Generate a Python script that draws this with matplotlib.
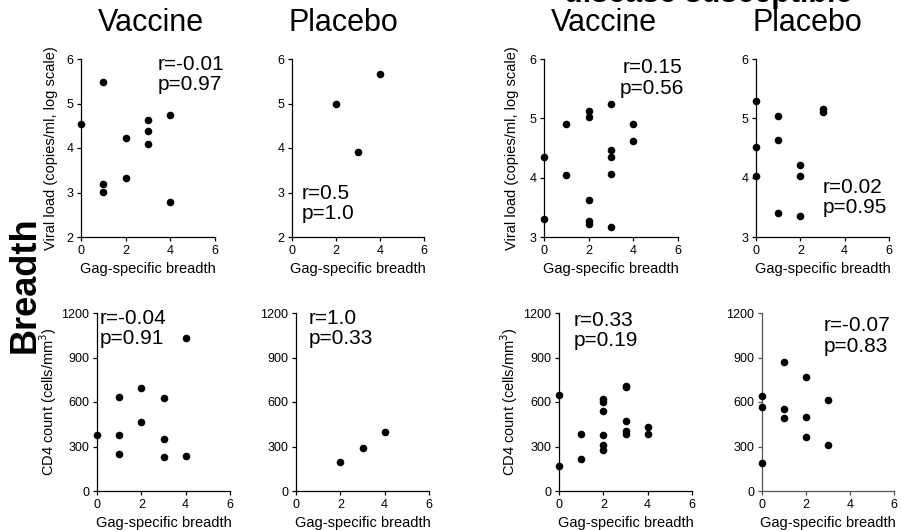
import numpy as np
import matplotlib
matplotlib.use('Agg')
import matplotlib.pyplot as plt

plt.rcParams['font.family'] = ['Liberation Sans', 'DejaVu Sans']

# Gag-specific breadth (x) and outcome (y) per panel
# top row: viral load (log scale), bottom row: CD4 count
vl_vac1_x = [0, 1, 1, 1, 2, 2, 3, 3, 3, 4, 4]
vl_vac1_y = [4.54, 5.48, 3.18, 3.02, 4.23, 3.32, 4.63, 4.39, 4.10, 4.74, 2.79]
vl_pla1_x = [2, 3, 4]
vl_pla1_y = [5.0, 3.92, 5.66]
vl_vac2_x = [0, 0, 1, 1, 2, 2, 2, 2, 2, 3, 3, 3, 3, 3, 4, 4]
vl_vac2_y = [4.34, 3.31, 4.90, 4.04, 5.13, 5.02, 3.63, 3.27, 3.22, 5.24, 4.47, 4.34, 4.07, 3.17, 4.90, 4.61]
vl_pla2_x = [0, 0, 0, 1, 1, 1, 2, 2, 2, 3, 3]
vl_pla2_y = [5.30, 4.52, 4.03, 5.04, 4.63, 3.40, 4.21, 4.02, 3.36, 5.15, 5.10]

cd4_vac1_x = [0, 1, 1, 1, 2, 2, 3, 3, 3, 4, 4]
cd4_vac1_y = [378, 637, 378, 248, 693, 466, 626, 349, 230, 1033, 239]
cd4_pla1_x = [2, 3, 4]
cd4_pla1_y = [198, 293, 401]
cd4_vac2_x = [0, 0, 1, 1, 2, 2, 2, 2, 2, 2, 3, 3, 3, 3, 3, 4, 4]
cd4_vac2_y = [650, 166, 381, 213, 619, 601, 536, 379, 307, 276, 711, 700, 471, 406, 386, 431, 384]
cd4_pla2_x = [0, 0, 0, 1, 1, 1, 2, 2, 2, 3, 3]
cd4_pla2_y = [639, 565, 191, 873, 550, 489, 767, 498, 361, 615, 310]

stats = ['r=-0.01\np=0.97', 'r=0.5\np=1.0', 'r=0.15\np=0.56', 'r=0.02\np=0.95',
         'r=-0.04\np=0.91', 'r=1.0\np=0.33', 'r=0.33\np=0.19', 'r=-0.07\np=0.83']

W, H = 901, 530
fig = plt.figure(figsize=(W / 100, H / 100), dpi=100)

# panel boxes in pixels: left, right, top, bottom
boxes = [(81, 215, 59, 237), (292, 424, 59, 237), (544, 678, 59, 237), (756, 889, 59, 237),
         (97, 230, 313, 491), (296, 429, 313, 491), (559, 692, 313, 491), (762, 894, 313, 491)]
data = [(vl_vac1_x, vl_vac1_y), (vl_pla1_x, vl_pla1_y), (vl_vac2_x, vl_vac2_y), (vl_pla2_x, vl_pla2_y),
        (cd4_vac1_x, cd4_vac1_y), (cd4_pla1_x, cd4_pla1_y), (cd4_vac2_x, cd4_vac2_y), (cd4_pla2_x, cd4_pla2_y)]
# text anchor (pixel x, pixel top, ha)
txt_pos = [(158, 55, 'left'), (302, 184, 'left'), (652, 58, 'center'), (823, 178, 'left'),
           (100, 309, 'left'), (309, 309, 'left'), (574, 311, 'left'), (824, 316, 'left')]
ylab_x = [58, 58, 519, 519, 59, 59, 520, 520]

for i, (box, (xs, ys)) in enumerate(zip(boxes, data)):
    l, r, t, b = box
    ax = fig.add_axes([l / W, 1 - b / H, (r - l) / W, (b - t) / H])
    col = '#555555' if i == 7 else 'black'
    ax.scatter(xs, ys, s=30, color='black', zorder=3, clip_on=False, linewidths=0)
    for s in ['top', 'right']:
        ax.spines[s].set_visible(False)
    for s in ['left', 'bottom']:
        ax.spines[s].set_linewidth(0.9)
        ax.spines[s].set_color(col)
    ax.tick_params(direction='out', length=3, width=0.9, color=col, labelsize=9, pad=2.5)
    ax.set_xlim(0, 6)
    ax.set_xticks([0, 2, 4, 6])
    if i < 4:
        if i < 2:
            ax.set_ylim(2, 6)
            ax.set_yticks([2, 3, 4, 5, 6])
        else:
            ax.set_ylim(3, 6)
            ax.set_yticks([3, 4, 5, 6])
        ax.set_ylabel('Viral load (copies/ml, log scale)', fontsize=10.5)
    else:
        ax.set_ylim(0, 1200)
        ax.set_yticks([0, 300, 600, 900, 1200])
        ax.set_ylabel('CD4 count (cells/mm$^3$)', fontsize=10.5)
    ax.set_xlabel('Gag-specific breadth', fontsize=10.5, labelpad=4)
    if i in (0, 2, 4, 6):
        ax.yaxis.set_label_coords((ylab_x[i] - l) / (r - l), 0.5)
    else:
        ax.set_ylabel('')
    tx, ty, ha = txt_pos[i]
    fig.text(tx / W, 1 - ty / H, stats[i], fontsize=15, ha=ha, va='top',
             multialignment=ha, linespacing=1.1)

fig.text(151 / W, 1 - 23 / H, 'Vaccine', fontsize=22, ha='center', va='center')
fig.text(343 / W, 1 - 23 / H, 'Placebo', fontsize=22, ha='center', va='center')
fig.text(604 / W, 1 - 23 / H, 'Vaccine', fontsize=22, ha='center', va='center')
fig.text(807 / W, 1 - 23 / H, 'Placebo', fontsize=22, ha='center', va='center')
fig.text(708 / W, 1 - 2 / H, 'disease susceptible', fontsize=22, fontweight='bold',
         ha='center', va='baseline')
fig.text(25 / W, 1 - 285 / H, 'Breadth', fontsize=26, fontweight='bold',
         rotation=90, ha='center', va='center')

fig.savefig('out.png', dpi=100)
